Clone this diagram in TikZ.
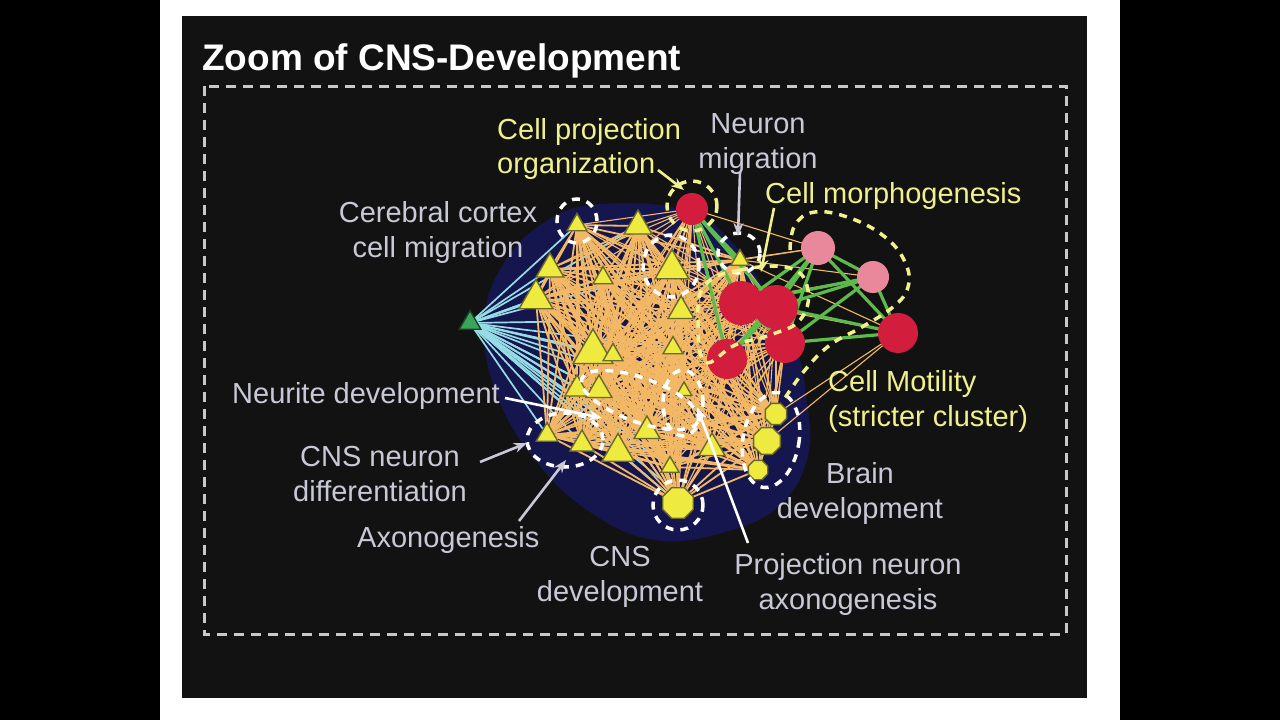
\documentclass[tikz,border=0pt]{standalone}
\usepackage{fontspec}
\setmainfont{Liberation Sans}
\usetikzlibrary{shapes.geometric,arrows.meta,calc}
\pgfdeclarelayer{bgA}
\pgfdeclarelayer{bgB}
\pgfsetlayers{bgA,bgB,main}
\definecolor{panel}{HTML}{121212}
\definecolor{navy}{HTML}{16164E}
\definecolor{oedgeC}{HTML}{F2B866}
\definecolor{cyanC}{HTML}{96DCE6}
\definecolor{greenC}{HTML}{5DBB4C}
\definecolor{triY}{HTML}{EEEA40}
\definecolor{triO}{HTML}{6A6A2C}
\definecolor{redC}{HTML}{D21E3C}
\definecolor{pinkC}{HTML}{E8889A}
\definecolor{gtri}{HTML}{3AA55A}
\definecolor{labG}{HTML}{C8C8D7}
\definecolor{labY}{HTML}{F0F08C}
\definecolor{frameC}{HTML}{C8C8C8}
\begin{document}
\begin{tikzpicture}[x=1pt,y=-1pt,
  tri/.style={regular polygon, regular polygon sides=3, fill=triY, draw=triO, line width=1.4pt, inner sep=0pt},
  oct/.style={regular polygon, regular polygon sides=8, fill=triY, draw=triO, line width=1.4pt, inner sep=0pt},
  rc/.style={circle, fill=redC, inner sep=0pt},
  pc/.style={circle, fill=pinkC, inner sep=0pt},
  oedge/.style={draw=oedgeC, line width=1.8pt},
  othin/.style={draw=oedgeC, line width=1.1pt},
  cedge/.style={draw=cyanC, line width=1.7pt},
  gedge/.style={draw=greenC, line width=3.2pt},
  wdash/.style={draw=white, line width=3.5pt, dash pattern=on 8pt off 7pt},
  ydash/.style={draw=labY, line width=3.5pt, dash pattern=on 8pt off 7pt},
  lab/.style={font=\fontsize{29}{35}\selectfont, inner sep=0pt, align=center, text=labG},
  laby/.style={lab, text=labY},
  arrG/.style={draw=labG, line width=2.6pt, -{Stealth[length=13pt,width=10pt]}},
  arrW/.style={draw=white, line width=2.6pt, -{Stealth[length=13pt,width=10pt]}},
  arrY/.style={draw=labY, line width=2.6pt, -{Stealth[length=13pt,width=10pt]}}
]
\useasboundingbox (0,0) rectangle (1280,720);
\begin{pgfonlayer}{bgA}
\fill[black] (0,0) rectangle (1280,720);
\fill[white] (160,0) rectangle (1120,720);
\fill[panel] (182,16) rectangle (1087,698);
\draw[frameC, line width=3pt, dash pattern=on 10pt off 7pt] (204,86) rectangle (1066,634);
\fill[navy] plot[smooth cycle, tension=0.7] coordinates {(600,204) (545,222) (502,266) (484,325) (497,395) (535,460) (590,512) (655,540) (725,532) (780,505) (808,455) (806,395) (795,345) (765,290) (730,240) (685,210)};
\end{pgfonlayer}

% nodes
\node[tri, minimum size=23pt] (t1) at (577,225) {};
\node[tri, minimum size=32pt] (t2) at (638,226) {};
\node[tri, minimum size=32pt] (t3) at (550,269) {};
\node[tri, minimum size=39pt] (t4) at (536,299) {};
\node[tri, minimum size=23pt] (t5) at (603,278) {};
\node[tri, minimum size=39pt] (t6) at (672,269) {};
\node[tri, minimum size=30pt] (t7) at (681,311) {};
\node[tri, minimum size=23pt] (t8) at (673,348) {};
\node[tri, minimum size=46pt] (t9) at (593,352) {};
\node[tri, minimum size=23pt] (t10) at (613,355) {};
\node[tri, minimum size=28pt] (t11) at (577,389) {};
\node[tri, minimum size=30pt] (t12) at (599,390) {};
\node[tri, minimum size=18pt] (t13) at (684,391) {};
\node[tri, minimum size=25pt] (t14) at (547,435) {};
\node[tri, minimum size=28pt] (t15) at (582,444) {};
\node[tri, minimum size=37pt] (t16) at (618,452) {};
\node[tri, minimum size=30pt] (t17) at (647,431) {};
\node[tri, minimum size=21pt] (t18) at (670,467) {};
\node[tri, minimum size=30pt] (t19) at (712,448) {};
\node[tri, minimum size=21pt] (t20) at (740,260) {};
\node[tri, minimum size=25pt, fill=gtri, draw=black!60!gtri] (g) at (470,323) {};
\node[oct, minimum size=23pt] (o1) at (776,414) {};
\node[oct, minimum size=29pt] (o2) at (767,441) {};
\node[oct, minimum size=21pt] (o3) at (758,470) {};
\node[oct, minimum size=33pt] (o4) at (678,503) {};
\node[rc, minimum size=32pt] (r1) at (692,209) {};
\node[rc, minimum size=44pt] (r2) at (741,303) {};
\node[rc, minimum size=44pt] (r3) at (776,307) {};
\node[rc, minimum size=40pt] (r4) at (785,343) {};
\node[rc, minimum size=40pt] (r5) at (727,359) {};
\node[rc, minimum size=40pt] (r6) at (898,333) {};
\node[pc, minimum size=34pt] (p1) at (818,248) {};
\node[pc, minimum size=32pt] (p2) at (873,277) {};

\def\ylist{t1,t2,t3,t4,t5,t6,t7,t8,t9,t10,t11,t12,t13,t14,t15,t16,t17,t18,t19,t20,o1,o2,o3,o4}
\begin{pgfonlayer}{bgB}
\foreach \b in {t1,t2,t3,t4,t5,t9,t10,t11,t12,t14,t15,t16,t17,t18,o4,t6,t8,t13,t19}
  \draw[cedge] (g.center) -- (\b.center);
\foreach \k in {0,1,...,9}
  \draw[cedge] (g.center) -- ($(t4.center)!\k/9!(o4.center)$);
\foreach \a [count=\i] in \ylist {
  \foreach \b [count=\j] in \ylist {
    \ifnum\j>\i \draw[oedge] (\a.center) -- (\b.center); \fi
  }
}
\foreach \a in \ylist {
  \foreach \b in {r1,r2,r3,r4,r5}
    \draw[othin] (\a.center) -- (\b.center);
}
\foreach \a/\b in {r6/o1,r6/o2,r4/o1,r4/o2,r4/o3,r5/o2,t20/p1,t20/p2,t20/r6,r1/p1,r2/r6,t7/p2,t6/p1}
  \draw[othin] (\a.center) -- (\b.center);
\foreach \a/\b in {r1/r2,r1/r3,r1/r5,r1/t20,r2/p1,r3/p1,r3/p2,r2/p2,p1/p2,p1/r6,p2/r6,r3/r6,r4/r6,r4/p1,r4/p2,r5/p1,r5/r3,r2/r4}
  \draw[gedge] (\a.center) -- (\b.center);
\end{pgfonlayer}

% dashed outlines
\draw[wdash] (577,221) ellipse[x radius=20pt, y radius=22pt];
\draw[wdash] (671,266) ellipse[x radius=28pt, y radius=31pt];
\draw[wdash] (739,253) ellipse[x radius=21pt, y radius=20pt];
\draw[wdash] (683,403) ellipse[x radius=20pt, y radius=33pt];
\draw[wdash, rotate around={-20:(640,400)}] (640,400) ellipse[x radius=62pt, y radius=22pt];
\draw[wdash] (565,440) ellipse[x radius=38pt, y radius=27pt];
\draw[wdash, rotate around={-10:(771,440)}] (771,440) ellipse[x radius=28pt, y radius=48pt];
\draw[wdash] (678,505) circle[radius=25pt];
\draw[ydash] (692,206) circle[radius=25pt];
\draw[ydash] plot[smooth, tension=0.7] coordinates {(790,250) (795,225) (815,212) (850,218) (885,237) (905,262) (908,287) (893,307) (862,327) (830,345) (805,370) (785,398)};
\draw[ydash] plot[smooth cycle, tension=0.7] coordinates {(705,285) (740,270) (790,268) (808,290) (800,320) (770,335) (735,345) (705,362) (698,320)};

% labels
\node[font=\fontsize{37}{44}\selectfont\bfseries, text=white, anchor=west, inner sep=0pt] (title) at (202,61) {Zoom of CNS-Development};
\node[laby, anchor=west, align=left] (cpo) at (497,149) {Cell projection\\organization};
\node[lab] (nm) at (758,144) {Neuron\\migration};
\node[laby, anchor=west] (cm) at (765,196) {Cell morphogenesis};
\node[lab] (ccm) at (438,232) {Cerebral cortex\\cell migration};
\node[lab, anchor=west] (nd) at (232,396) {Neurite development};
\node[lab] (cnd) at (380,474) {CNS neuron\\differentiation};
\node[lab, anchor=west] (ax) at (357,540) {Axonogenesis};
\node[lab] (cd) at (620,577) {CNS\\development};
\node[lab] (pn) at (848,584) {Projection neuron\\axonogenesis};
\node[lab] (bd) at (860,493) {Brain\\development};
\node[laby, anchor=west, align=left] (cmo) at (828,401) {Cell Motility\\(stricter cluster)};

% arrows
\coordinate (a1s) at (658,170); \coordinate (a1e) at (684,190);
\coordinate (a2s) at (740,172); \coordinate (a2e) at (738,236);
\coordinate (a3s) at (774,208); \coordinate (a3e) at (761,272);
\coordinate (a4s) at (505,398); \coordinate (a4e) at (602,418);
\coordinate (a5s) at (480,462); \coordinate (a5e) at (527,443);
\coordinate (a6s) at (519,521); \coordinate (a6e) at (566,460);
\coordinate (a7s) at (748,543); \coordinate (a7e) at (697,407);
\draw[arrY] (a1s) -- (a1e);
\draw[arrG] (a2s) -- (a2e);
\draw[arrY] (a3s) -- (a3e);
\draw[arrW] (a4s) -- (a4e);
\draw[arrG] (a5s) -- (a5e);
\draw[arrG] (a6s) -- (a6e);
\draw[arrW] (a7s) -- (a7e);
\end{tikzpicture}
\end{document}
